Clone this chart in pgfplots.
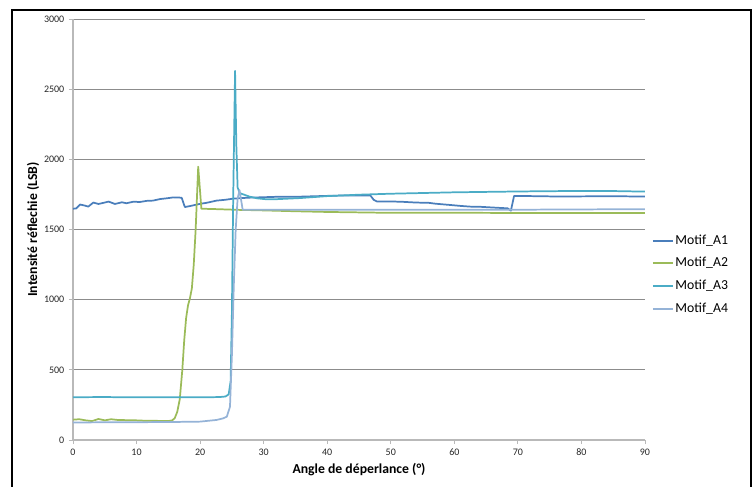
\documentclass[border=0pt]{standalone}
\usepackage{fontspec}
\setmainfont{Carlito}
\usepackage{pgfplots}
\pgfplotsset{compat=1.18}
\definecolor{motifone}{RGB}{74,126,187}
\definecolor{motiftwo}{RGB}{155,187,89}
\definecolor{motifthree}{RGB}{75,172,198}
\definecolor{motiffour}{RGB}{149,179,215}
\definecolor{gridc}{RGB}{140,140,140}
\definecolor{axisc}{RGB}{185,185,185}
\begin{document}
\begin{tikzpicture}
% page = 755 x 486 px at 0.75pt per px
\useasboundingbox (0pt,0pt) rectangle (566.25pt,364.5pt);
\draw[black,line width=1.6pt] (9pt,-10pt) rectangle (563.25pt,357pt);
\begin{axis}[
  at={(54.75pt,34.5pt)}, anchor=south west,
  scale only axis,
  width=429pt, height=315.75pt,
  xmin=0, xmax=90, ymin=0, ymax=3000,
  xtick={0,10,...,90},
  ytick={0,500,...,3000},
  axis x line=bottom, axis y line=left,
  axis line style={draw=axisc,line width=0.8pt,-},
  tick align=outside,
  major tick length=3pt,
  tick style={draw=axisc,line width=0.6pt},
  ymajorgrids,
  grid style={gridc,line width=0.7pt},
  /pgf/number format/assume math mode=true,
  /pgf/number format/1000 sep={},
  tick label style={font=\fontsize{7.5}{9}\selectfont,text=black!85},
  xlabel={\textbf{Angle de déperlance (°)}},
  ylabel={\textbf{Intensité réflechie (LSB)}},
  label style={font=\fontsize{10.3}{12}\selectfont},
  xlabel style={at={(axis description cs:0.5,-0.071)},anchor=center},
  ylabel style={at={(axis description cs:-0.07,0.5)},anchor=center},
  legend style={at={(axis description cs:1,0.392)},anchor=west,xshift=5pt,
    draw=none,fill=none,inner sep=0pt,row sep=6pt,
    font=\fontsize{10.3}{12}\selectfont,
    nodes={inner sep=1pt,text height=7pt,text depth=2pt}},
  legend cell align=left,
  legend image code/.code={\draw[#1,line width=1.6pt] (0pt,0.2pt) -- (15pt,0.2pt);},
  every axis plot/.append style={line width=1.3pt,line join=round},
]
\addplot[color=motifone] coordinates {
(0,1648)(0.5,1650)(1.1,1678)(1.9,1670)(2.4,1663)(3.2,1692)(4.0,1682)(4.8,1690)
(5.6,1699)(6.6,1682)(7.7,1694)(8.4,1687)(9.5,1698)(10.5,1696)(11.6,1704)(12.6,1706)
(13.7,1717)(14.7,1722)(15.8,1729)(16.6,1728)(17.1,1726)(17.6,1660)(18.5,1668)
(20,1683)(21,1690)(22.6,1706)(24,1712)(25.2,1720)(26.5,1724)(27.8,1727)(30,1730)
(32,1733)(35.7,1734)(38,1737)(41,1741)(44,1743)(46.8,1742)(47.3,1712)(47.8,1700)
(50,1700)(52,1697)(54,1692)(56,1690)(57,1684)(59.3,1675)(61,1668)(62.5,1663)
(64,1662)(66.7,1655)(68.4,1651)(68.9,1634)(69.4,1739)(72,1738)(75,1736)(80,1736)
(85,1737)(90,1735)
};
\addlegendentry{Motif\_A1}
\addplot[color=motiftwo] coordinates {
(0,145)(1,148)(2,140)(3,135)(4,150)(5,140)(6,148)(7,143)(8,142)(9,140)(10,140)
(11,138)(12,138)(13,137)(14,135)(15,135)(15.6,140)(16.0,155)(16.4,200)(16.8,290)
(17.2,500)(17.5,710)(17.8,870)(18.1,960)(18.4,1010)(18.7,1080)(19.0,1250)(19.3,1500)
(19.7,1948)(20.2,1648)(22,1646)(26,1640)(30,1636)(35,1630)(40,1625)(48,1620)
(60,1619)(70,1618)(80,1618)(90,1618)
};
\addlegendentry{Motif\_A2}
\addplot[color=motifthree] coordinates {
(0,305)(5,306)(10,304)(15,305)(20,304)(23,306)(24,310)(24.5,325)(24.8,420)
(25.0,900)(25.2,1700)(25.5,2630)(25.7,2100)(25.9,1800)(26.2,1762)(26.5,1755)
(27.8,1734)(29,1722)(30.5,1715)(32,1716)(35.7,1724)(40,1738)(45,1748)(50,1755)
(55,1760)(60,1765)(65,1768)(70,1771)(75,1773)(80,1775)(85,1774)(90,1770)
};
\addlegendentry{Motif\_A3}
\addplot[color=motiffour] coordinates {
(0,125)(5,126)(10,127)(15,128)(20,131)(22.6,143)(23.6,154)(24.2,166)(24.7,237)
(25.0,600)(25.3,1100)(25.6,1500)(25.9,1720)(26.2,1781)(26.7,1640)(30,1640)
(40,1640)(50,1640)(60,1640)(70,1641)(80,1643)(90,1645)
};
\addlegendentry{Motif\_A4}
\end{axis}
\end{tikzpicture}
\end{document}
